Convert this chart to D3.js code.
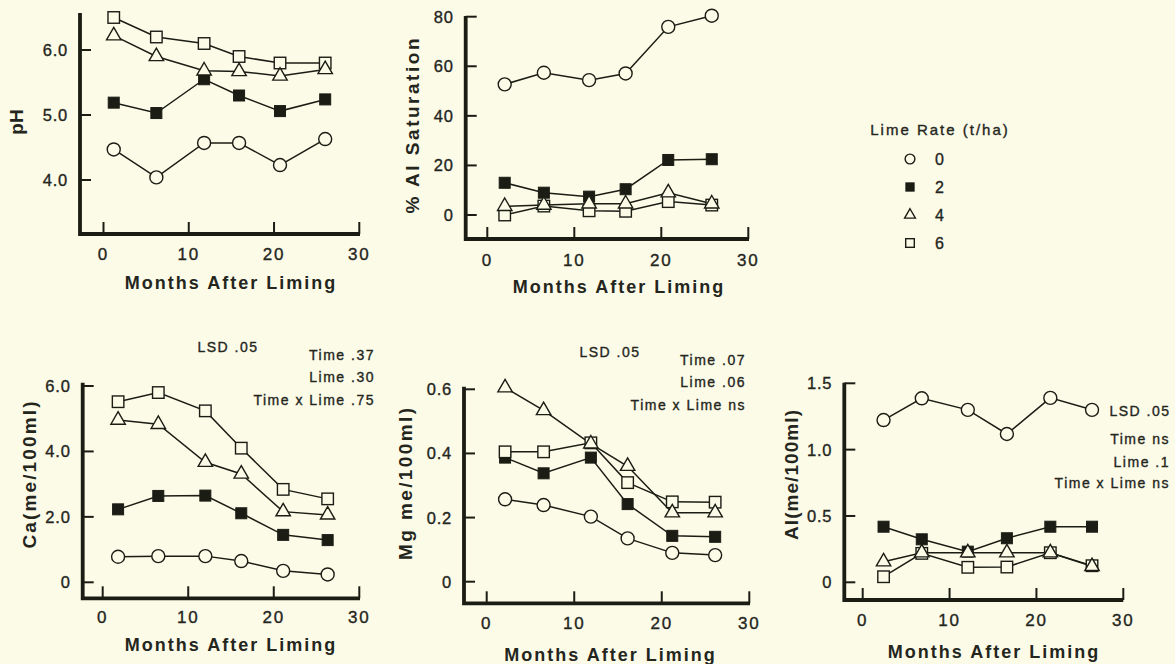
<!DOCTYPE html>
<html>
<head>
<meta charset="utf-8">
<script src="https://cdn.jsdelivr.net/npm/d3@7"></script>
<style>
  html, body { margin: 0; padding: 0; background: #fcfbe7; }
  svg { display: block; font-family: "Liberation Sans", Arial, sans-serif; }
</style>
</head>
<body>
<svg id="chart" width="1175" height="664"></svg>
<script>
// lime rates (t/ha) and their markers
const limeRates = ["0", "2", "4", "6"];
const xTicks = [0, 10, 20, 30];

// months after liming, read per panel
const phMonths = [1.2, 6.2, 11.8, 15.9, 20.7, 26.0];
const ph0 = [4.47, 4.04, 4.57, 4.57, 4.23, 4.63];
const ph2 = [5.19, 5.03, 5.55, 5.30, 5.06, 5.24];
const ph4 = [6.22, 5.90, 5.68, 5.67, 5.60, 5.70];
const ph6 = [6.50, 6.20, 6.10, 5.90, 5.80, 5.80];
const phTicks = [4.0, 5.0, 6.0];

const satMonths = [2.0, 6.5, 11.7, 15.9, 20.8, 25.8];
const sat0 = [52.7, 57.4, 54.4, 57.1, 75.9, 80.4];
const sat2 = [13.0, 9.0, 7.4, 10.4, 22.2, 22.5];
const sat4 = [3.5, 4.0, 4.5, 4.5, 9.0, 4.5];
const sat6 = [0.0, 3.6, 1.7, 1.5, 5.4, 4.0];
const satTicks = [0, 20, 40, 60, 80];

const caMonths = [1.8, 6.5, 12.0, 16.2, 21.1, 26.3];
const ca0 = [0.78, 0.80, 0.80, 0.65, 0.35, 0.24];
const ca2 = [2.23, 2.64, 2.65, 2.11, 1.45, 1.29];
const ca4 = [4.96, 4.83, 3.67, 3.31, 2.16, 2.06];
const ca6 = [5.52, 5.80, 5.24, 4.10, 2.84, 2.55];
const caTicks = [0, 2.0, 4.0, 6.0];

const mgMonths = [2.1, 6.5, 11.9, 16.1, 21.2, 26.1];
const mg0 = [0.257, 0.239, 0.203, 0.135, 0.090, 0.083];
const mg2 = [0.387, 0.338, 0.387, 0.242, 0.143, 0.140];
const mg4 = [0.605, 0.534, 0.430, 0.360, 0.215, 0.215];
const mg6 = [0.405, 0.405, 0.433, 0.309, 0.249, 0.248];
const mgTicks = [0, 0.2, 0.4, 0.6];

const alMonths = [2.4, 6.8, 12.1, 16.6, 21.6, 26.4];
const al0 = [1.223, 1.387, 1.300, 1.118, 1.390, 1.300];
const al2 = [0.419, 0.324, 0.231, 0.332, 0.419, 0.419];
const al4 = [0.155, 0.223, 0.223, 0.223, 0.223, 0.120];
const al6 = [0.042, 0.218, 0.113, 0.115, 0.223, 0.125];
const alTicks = [0, 0.5, 1.0, 1.5];

const caStats = ["Time .37", "Lime .30", "Time x Lime .75"];
const mgStats = ["Time .07", "Lime .06", "Time x Lime ns"];
const alStats = ["Time ns", "Lime .1", "Time x Lime ns"];

const ink = "#1b1d15";
const textInk = "#24261e";
const bg = "#fcfbe7";

const svg = d3.select("#chart");

// layout of each panel in pixels (axis corner, tick anchors)
const panels = [
  { months: phMonths, series: [ph0, ph2, ph4, ph6], yTicks: phTicks, fmt: d3.format(".1f"),
    axisX: 80, x0: 103.5, x30: 359.3, xEnd: 360, yLo: 4.0, yHi: 6.0, pLo: 180, pHi: 50, top: 13, bottom: 234,
    ytitle: "pH", ytx: 16, yty: 122, ytl: null, xtlY: 254, xtitleY: 283, xtitleX: 231 },
  { months: satMonths, series: [sat0, sat2, sat4, sat6], yTicks: satTicks, fmt: d3.format("d"),
    axisX: 465.7, x0: 487.3, x30: 748.3, xEnd: 749, yLo: 0, yHi: 80, pLo: 215, pHi: 16.7, top: 16, bottom: 239,
    ytitle: "% Al Saturation", ytx: 412, yty: 126, ytl: 175, xtlY: 260, xtitleY: 287, xtitleX: 619 },
  { months: caMonths, series: [ca0, ca2, ca4, ca6], yTicks: caTicks, fmt: d => d === 0 ? "0" : d3.format(".1f")(d),
    axisX: 82.7, x0: 102.7, x30: 359.3, xEnd: 360, yLo: 0, yHi: 6, pLo: 582.3, pHi: 386, top: 382.7, bottom: 598.3,
    ytitle: "Ca(me/100ml)", ytx: 29, yty: 475, ytl: 147, xtlY: 617, xtitleY: 645, xtitleX: 231,
    stats: caStats, lsdX: 228, lsdY: 347, statX: 375, statY: [355, 377, 400] },
  { months: mgMonths, series: [mg0, mg2, mg4, mg6], yTicks: mgTicks, fmt: d => d === 0 ? "0" : d3.format(".1f")(d),
    axisX: 464, x0: 486.7, x30: 749.3, xEnd: 750, yLo: 0, yHi: 0.6, pLo: 581.7, pHi: 389.3, top: 386.7, bottom: 603.3,
    ytitle: "Mg me/100ml)", ytx: 405.5, yty: 484, ytl: 152, xtlY: 623, xtitleY: 655, xtitleX: 610.5,
    stats: mgStats, lsdX: 610, lsdY: 352, statX: 746, statY: [360, 382, 405] },
  { months: alMonths, series: [al0, al2, al4, al6], yTicks: alTicks, fmt: d => d === 0 ? "0" : d3.format(".1f")(d),
    axisX: 844.3, x0: 862.7, x30: 1123.3, xEnd: 1123.3, yLo: 0, yHi: 1.5, pLo: 582.3, pHi: 383.3, top: 382.7, bottom: 600,
    ytitle: "Al(me/100ml)", ytx: 791, yty: 475, ytl: 130, xtlY: 620, xtitleY: 652, xtitleX: 994,
    stats: alStats, lsdX: 1140, lsdY: 411, statX: 1170, statY: [439, 462, 483] }
];

// marker drawing for each lime rate
function drawMarker(g, kind, cx, cy, s) {
  if (kind === 0) {
    g.append("circle").attr("cx", cx).attr("cy", cy).attr("r", 6.5 * s)
      .attr("fill", bg).attr("stroke", ink).attr("stroke-width", 1.4);
  } else if (kind === 1) {
    const w = 11 * s;
    g.append("rect").attr("x", cx - w / 2).attr("y", cy - w / 2).attr("width", w).attr("height", w)
      .attr("fill", ink).attr("stroke", ink).attr("stroke-width", 1);
  } else if (kind === 2) {
    g.append("path").attr("transform", `translate(${cx},${cy})`)
      .attr("d", d3.symbol(d3.symbolTriangle, 90 * s * s)())
      .attr("fill", bg).attr("stroke", ink).attr("stroke-width", 1.4);
  } else {
    const w = 11.5 * s;
    g.append("rect").attr("x", cx - w / 2).attr("y", cy - w / 2).attr("width", w).attr("height", w)
      .attr("fill", bg).attr("stroke", ink).attr("stroke-width", 1.4);
  }
}

// light text with a thin outline to mimic the heavier print
function inkText(sel, size) {
  return sel.attr("font-size", size).attr("fill", textInk)
    .attr("stroke", textInk).attr("stroke-width", 0.35);
}

panels.forEach(p => {
  const x = d3.scaleLinear().domain([0, 30]).range([p.x0, p.x30]);
  const y = d3.scaleLinear().domain([p.yLo, p.yHi]).range([p.pLo, p.pHi]);
  const g = svg.append("g");

  // axis frame (L shape)
  g.append("path")
    .attr("d", `M${p.axisX},${p.top}V${p.bottom}H${p.xEnd}`)
    .attr("fill", "none").attr("stroke", ink).attr("stroke-width", 3.8);

  // y ticks, drawn inward
  g.selectAll(".yt").data(p.yTicks).join("line")
    .attr("x1", p.axisX).attr("x2", p.axisX + 11)
    .attr("y1", d => y(d)).attr("y2", d => y(d))
    .attr("stroke", ink).attr("stroke-width", 2);
  inkText(g.selectAll(".yl").data(p.yTicks).join("text"), 16.5)
    .attr("x", p.axisX - 12).attr("y", d => y(d))
    .attr("text-anchor", "end").attr("dominant-baseline", "central")
    .attr("letter-spacing", 0.8)
    .text(p.fmt);

  // x ticks, drawn inward
  g.selectAll(".xt").data(xTicks).join("line")
    .attr("x1", d => x(d)).attr("x2", d => x(d))
    .attr("y1", p.bottom).attr("y2", p.bottom - 12)
    .attr("stroke", ink).attr("stroke-width", 2);
  inkText(g.selectAll(".xl").data(xTicks).join("text"), 17)
    .attr("x", d => x(d)).attr("y", p.xtlY)
    .attr("text-anchor", "middle").attr("dominant-baseline", "central")
    .attr("letter-spacing", 1.8)
    .text(d => d);

  // axis titles
  const yt = g.append("text")
    .attr("transform", `translate(${p.ytx},${p.yty}) rotate(-90)`)
    .attr("text-anchor", "middle").attr("dominant-baseline", "central")
    .attr("font-size", 19).attr("font-weight", "bold").attr("fill", textInk)
    .text(p.ytitle);
  if (p.ytl) yt.attr("textLength", p.ytl).attr("lengthAdjust", "spacing");

  g.append("text")
    .attr("x", p.xtitleX).attr("y", p.xtitleY)
    .attr("text-anchor", "middle").attr("dominant-baseline", "central")
    .attr("font-size", 18).attr("font-weight", "bold").attr("fill", textInk)
    .attr("letter-spacing", 2)
    .text("Months After Liming");

  // series lines then markers
  const line = d3.line().x((d, i) => x(p.months[i])).y(d => y(d));
  p.series.forEach(s => {
    g.append("path").attr("d", line(s))
      .attr("fill", "none").attr("stroke", ink).attr("stroke-width", 1.5);
  });
  [0, 1, 3, 2].forEach(k => {
    p.series[k].forEach((v, i) => drawMarker(g, k, x(p.months[i]), y(v), 1));
  });

  // LSD annotations
  if (p.stats) {
    inkText(g.append("text"), 14).attr("x", p.lsdX).attr("y", p.lsdY)
      .attr("text-anchor", "middle").attr("dominant-baseline", "central")
      .attr("letter-spacing", 1.5)
      .text("LSD .05");
    inkText(g.selectAll(".st").data(p.stats).join("text"), 14)
      .attr("x", p.statX).attr("y", (d, i) => p.statY[i])
      .attr("text-anchor", "end").attr("dominant-baseline", "central")
      .attr("letter-spacing", 1.5)
      .text(d => d);
  }
});

// legend
const leg = svg.append("g");
inkText(leg.append("text"), 15).attr("x", 940).attr("y", 129)
  .attr("text-anchor", "middle").attr("dominant-baseline", "central")
  .attr("letter-spacing", 2)
  .text("Lime Rate (t/ha)");
const legY = d3.scalePoint().domain(limeRates).range([159, 243]);
limeRates.forEach((r, k) => {
  drawMarker(leg, k, 910, legY(r), 0.75);
  inkText(leg.append("text"), 16).attr("x", 935).attr("y", legY(r))
    .attr("dominant-baseline", "central")
    .text(r);
});
</script>
</body>
</html>
